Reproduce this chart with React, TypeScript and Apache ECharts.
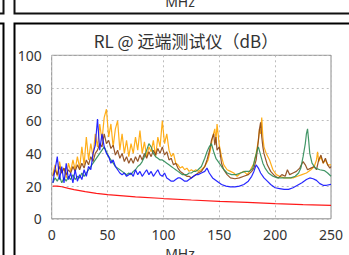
import React, { useEffect, useRef } from "react";
import * as echarts from "echarts";

const titleText = "RL @ 远端测试仪（dB）";
const xAxisName = "MHz";
const xTicks = { min: 0, max: 250, interval: 50 };
const yTicks = { min: 0, max: 100, interval: 20 };

const orangeData: [number, number][] = [
  [1, 27], [3, 33], [5, 26], [7, 35], [9, 28], [11, 31], [13, 25], [15, 34], [17, 29], [19, 36],
  [21, 30], [23, 38], [25, 31], [27, 44], [29, 33], [31, 50], [33, 36], [35, 46], [37, 38], [39, 52],
  [41, 44], [43, 58], [45, 48], [47, 62], [49, 67], [51, 50], [53, 58], [55, 44], [57, 55], [59, 60],
  [61, 42], [63, 52], [65, 40], [67, 48], [69, 38], [71, 46], [73, 40], [75, 50], [77, 42], [79, 54],
  [81, 40], [83, 47], [85, 38], [87, 44], [89, 41], [91, 48], [93, 38], [95, 50], [97, 44], [99, 60],
  [101, 46], [103, 52], [105, 42], [107, 38], [109, 40], [111, 34], [113, 33], [115, 31], [117, 32], [119, 30],
  [121, 31], [123, 29], [125, 30], [127, 29], [129, 30], [131, 29], [134, 30], [137, 32], [140, 36], [142, 42],
  [144, 50], [146, 55], [147, 47], [148, 58], [150, 45], [152, 38], [154, 33], [157, 30], [160, 29], [163, 28],
  [166, 26], [169, 28], [172, 29], [175, 27], [178, 30], [181, 34], [183, 40], [185, 48], [186, 55], [187, 52],
  [188, 62], [189, 50], [190, 44], [192, 40], [195, 36], [198, 30], [201, 27], [204, 26], [208, 25], [212, 25],
  [216, 25], [220, 26], [224, 27], [228, 28], [232, 30], [235, 32], [237, 36], [238, 41], [239, 35], [241, 38],
  [243, 34], [245, 36], [247, 33], [250, 33],
];

const brownData: [number, number][] = [
  [1, 26], [3, 30], [5, 27], [7, 32], [9, 28], [11, 31], [13, 27], [15, 30], [17, 28], [19, 32],
  [21, 29], [23, 33], [25, 30], [27, 34], [29, 31], [31, 36], [33, 33], [35, 38], [37, 35], [39, 40],
  [41, 42], [43, 46], [45, 44], [47, 52], [49, 46], [51, 48], [53, 43], [55, 45], [57, 39], [59, 42],
  [61, 37], [63, 40], [65, 35], [67, 38], [69, 34], [71, 37], [73, 34], [75, 38], [77, 35], [79, 39],
  [81, 36], [83, 40], [85, 37], [87, 41], [89, 38], [91, 42], [93, 39], [95, 43], [97, 40], [99, 44],
  [101, 39], [103, 41], [105, 36], [107, 37], [109, 33], [111, 34], [113, 31], [115, 29], [117, 28], [119, 27],
  [121, 26], [123, 26], [125, 25], [127, 26], [129, 27], [131, 28], [134, 29], [137, 32], [139, 36], [141, 41],
  [143, 48], [145, 52], [146, 45], [147, 50], [148, 42], [150, 44], [152, 34], [154, 30], [157, 27], [160, 25],
  [164, 24.5], [168, 25], [172, 26], [176, 27], [179, 29], [181, 31], [183, 36], [185, 48], [186, 55], [187, 59],
  [188, 50], [189, 44], [190, 40], [193, 33], [196, 29], [200, 26], [203, 25], [206, 27], [209, 26], [211, 30],
  [213, 27], [216, 28], [219, 29], [222, 31], [225, 35], [227, 33], [229, 30], [232, 31], [235, 32], [237, 30],
  [239, 36], [241, 39], [243, 34], [245, 37], [247, 33], [249, 31], [250, 32],
];

const greenData: [number, number][] = [
  [1, 22], [3, 25], [5, 23], [7, 26], [9, 22], [11, 25], [13, 23], [15, 26], [17, 24], [19, 27],
  [21, 24], [23, 26], [25, 25], [27, 28], [29, 26], [31, 28], [33, 30], [35, 32], [37, 34], [39, 36],
  [41, 38], [43, 40], [45, 42], [47, 44], [49, 41], [51, 38], [53, 36], [55, 34], [57, 32], [59, 31],
  [61, 30], [63, 29], [65, 28], [67, 27], [69, 28], [71, 27], [73, 29], [75, 30], [77, 32], [79, 33],
  [81, 35], [83, 38], [85, 42], [87, 46], [89, 44], [91, 40], [93, 38], [95, 37], [97, 36], [99, 36],
  [101, 35], [103, 34], [105, 33], [107, 32], [109, 31], [111, 30], [113, 29], [115, 28], [117, 27], [119, 27],
  [121, 27], [123, 28], [125, 28], [127, 29], [129, 29], [131, 30], [134, 32], [137, 37], [139, 41], [141, 44],
  [143, 46], [145, 41], [147, 37], [150, 34], [153, 31], [157, 28], [161, 27], [165, 27], [169, 28], [173, 29],
  [177, 29], [180, 31], [182, 37], [184, 42], [185, 44], [187, 39], [189, 34], [191, 31], [194, 28], [198, 26],
  [202, 25], [206, 25], [210, 25], [214, 25], [218, 26], [221, 28], [223, 31], [225, 38], [227, 46], [228, 52],
  [229, 55], [230, 48], [231, 40], [233, 34], [236, 31], [240, 30], [244, 29.5], [247, 28], [250, 26],
];

const blueData: [number, number][] = [
  [1, 22], [3, 30], [5, 38], [7, 24], [9, 32], [11, 22], [13, 34], [15, 24], [17, 28], [19, 22],
  [21, 30], [23, 23], [25, 27], [27, 24], [29, 30], [31, 26], [33, 32], [35, 30], [37, 40], [39, 45],
  [41, 61], [43, 42], [45, 52], [47, 44], [49, 40], [51, 38], [53, 34], [55, 36], [57, 32], [59, 30],
  [61, 28], [63, 27], [65, 28], [67, 26], [69, 27], [71, 28], [73, 26], [75, 30], [77, 27], [79, 29],
  [81, 26], [83, 28], [85, 30], [87, 27], [89, 29], [91, 26], [93, 28], [95, 30], [97, 27], [99, 26],
  [101, 28], [103, 25], [105, 24], [107, 23], [109, 23], [111, 24], [113, 25], [115, 25], [117, 24], [119, 23],
  [121, 23], [123, 24], [125, 25], [127, 26], [129, 27], [131, 27], [134, 28], [137, 29], [139, 31], [141, 28],
  [144, 25], [148, 23], [152, 21], [156, 20], [160, 19.5], [164, 19.5], [168, 20], [172, 21], [176, 23], [179, 26],
  [181, 29], [183, 33], [185, 31], [187, 28], [190, 25], [193, 23], [196, 21], [200, 19], [204, 18.5], [208, 18],
  [212, 18], [216, 19], [220, 20.5], [224, 22], [228, 24], [231, 25], [234, 24.5], [237, 23.5], [240, 21.5], [243, 20.5],
  [246, 20.5], [250, 21],
];

const redData: [number, number][] = [
  [1, 20], [5, 20], [9, 19.6], [15, 18.6], [20, 17.8], [30, 16.6], [40, 15.6], [50, 14.8], [75, 13.4],
  [100, 12.4], [125, 11.5], [150, 10.7], [175, 10], [200, 9.3], [225, 8.7], [250, 8.2],
];

const seriesList = [
  { name: "orange", color: "#ffa500", data: orangeData },
  { name: "brown", color: "#8b4513", data: brownData },
  { name: "green", color: "#2e8b57", data: greenData },
  { name: "blue", color: "#1010ff", data: blueData },
  { name: "red", color: "#ff0000", data: redData },
];

const FONT = "'Noto Sans', 'Noto Sans CJK SC', sans-serif";

export default function App() {
  const ref = useRef<HTMLDivElement>(null);
  useEffect(() => {
    if (!ref.current) return;
    const chart = echarts.init(ref.current, undefined, { renderer: "svg" });
    chart.setOption({
      animation: false,
      backgroundColor: "#ffffff",
      title: {
        text: titleText,
        left: 181,
        textAlign: "center",
        top: 27,
        textStyle: { fontSize: 17, fontWeight: "normal", color: "#333", fontFamily: "'Noto Sans CJK SC', 'Noto Sans', sans-serif" },
      },
      grid: { left: 51.7, right: 18, top: 55.3, bottom: 36.2, show: true, borderColor: "#8c8c8c", borderWidth: 1 },
      xAxis: {
        type: "value",
        min: xTicks.min,
        max: xTicks.max,
        interval: xTicks.interval,
        axisLine: { show: false },
        axisTick: { show: false },
        axisLabel: { color: "#333", fontSize: 14, margin: 9, fontFamily: FONT },
        splitLine: { show: true, lineStyle: { type: [2, 3], color: "#bdbdbd", width: 1 } },
      },
      yAxis: {
        type: "value",
        min: yTicks.min,
        max: yTicks.max,
        interval: yTicks.interval,
        axisLine: { show: false },
        axisTick: { show: false },
        axisLabel: { color: "#333", fontSize: 14, margin: 10, fontFamily: FONT },
        splitLine: { show: true, lineStyle: { type: [2, 3], color: "#bdbdbd", width: 1 } },
      },
      series: seriesList.map((s) => ({
        name: s.name,
        type: "line",
        data: s.data,
        showSymbol: false,
        symbol: "none",
        lineStyle: { color: s.color, width: 1.2, opacity: 0.9 },
        silent: true,
      })),
      graphic: [
        { type: "rect", shape: { x: -100, y: -100, width: 103.5, height: 113.5 }, style: { fill: "none", stroke: "#111", lineWidth: 2 } },
        { type: "rect", shape: { x: 14.5, y: -100, width: 400, height: 113.5 }, style: { fill: "none", stroke: "#111", lineWidth: 2 } },
        { type: "rect", shape: { x: -100, y: 23.5, width: 103.5, height: 400 }, style: { fill: "none", stroke: "#000", lineWidth: 2 } },
        { type: "rect", shape: { x: 14.5, y: 23.5, width: 400, height: 400 }, style: { fill: "none", stroke: "#000", lineWidth: 2 } },
        { type: "text", x: 180, y: 8, style: { text: xAxisName, fill: "#333", fontSize: 14, fontFamily: FONT, textAlign: "center", textVerticalAlign: "bottom" } },
        { type: "text", x: 180, y: 246, style: { text: xAxisName, fill: "#333", fontSize: 14, fontFamily: FONT, textAlign: "center", textVerticalAlign: "top" } },
      ],
    });
    return () => chart.dispose();
  }, []);
  return <div ref={ref} style={{ position: "fixed", left: 0, top: 0, width: 349, height: 255 }} />;
}
